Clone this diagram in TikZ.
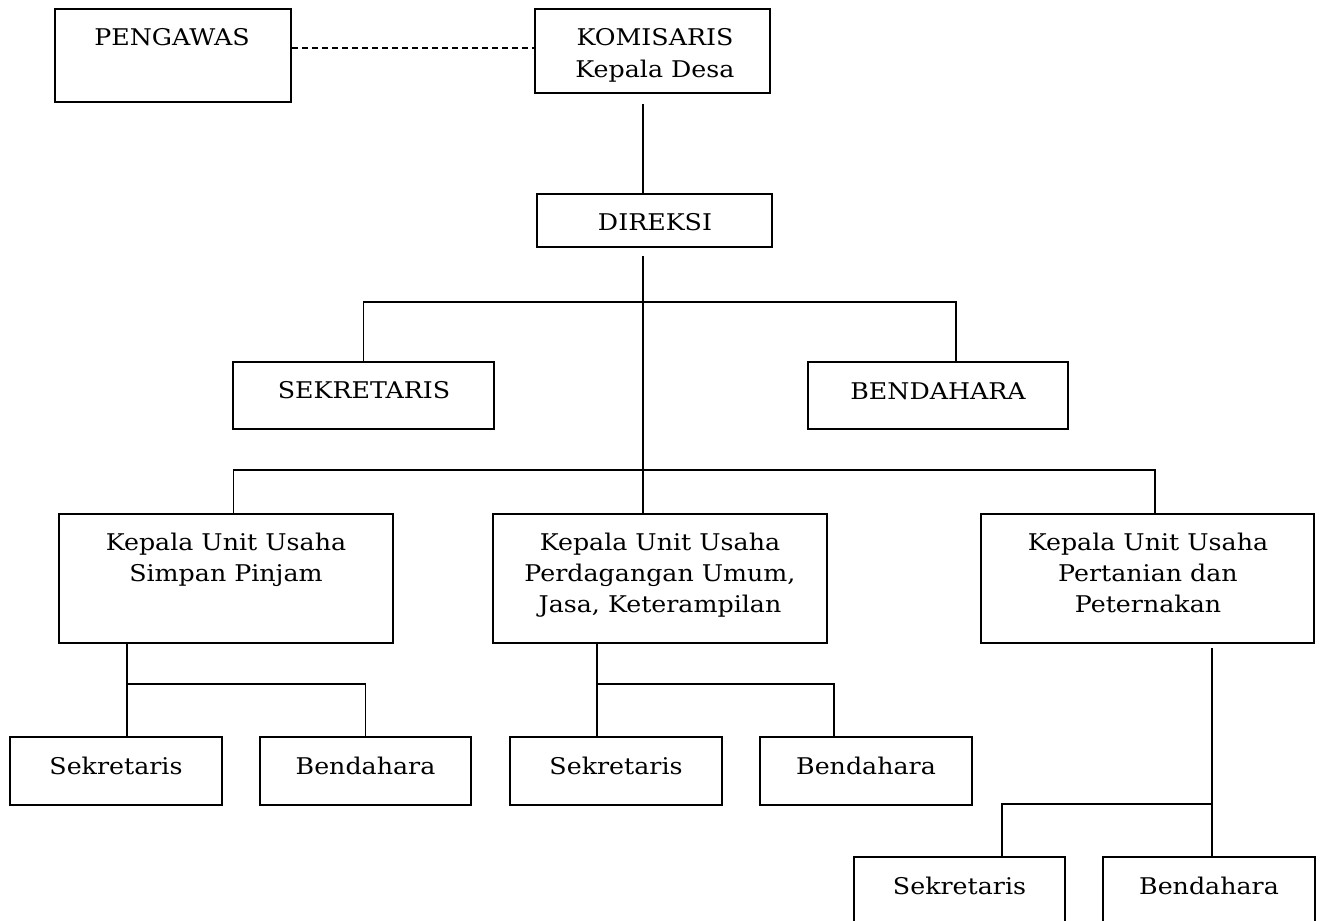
\documentclass[tikz,border=0pt]{standalone}
\usepackage{fontspec}
\setmainfont[FakeStretch=1.1]{DejaVu Serif}
\begin{document}
\begin{tikzpicture}[x=1pt,y=-1pt,
  box/.style={draw, line width=1.6pt, rectangle, inner sep=0pt},
  txt/.style={anchor=base, inner sep=0pt, font=\fontsize{23}{32}\selectfont},
  conn/.style={line width=1.5pt}]
\useasboundingbox (0,0) rectangle (1323,921);
% boxes
\node[box, minimum width=236pt, minimum height=93pt] (peng) at (173,55.5) {};
\node[box, minimum width=235pt, minimum height=84pt] (komi) at (652.5,51) {};
\node[box, minimum width=235pt, minimum height=53pt] (dir) at (654.5,220.5) {};
\node[box, minimum width=261pt, minimum height=67pt] (sek) at (363.5,395.5) {};
\node[box, minimum width=260pt, minimum height=67pt] (ben) at (937.75,395.5) {};
\node[box, minimum width=334pt, minimum height=129pt] (k1) at (226,578.5) {};
\node[box, minimum width=334pt, minimum height=129pt] (k2) at (660,578.5) {};
\node[box, minimum width=333pt, minimum height=129pt] (k3) at (1147.5,578.5) {};
\node[box, minimum width=212pt, minimum height=68pt] (s1) at (116,771) {};
\node[box, minimum width=211pt, minimum height=68pt] (b1) at (365.5,771) {};
\node[box, minimum width=212pt, minimum height=68pt] (s2) at (616,771) {};
\node[box, minimum width=212pt, minimum height=68pt] (b2) at (866,771) {};
\node[box, minimum width=211pt, minimum height=68pt] (s3) at (959.5,891) {};
\node[box, minimum width=212pt, minimum height=68pt] (b3) at (1209,891) {};
% texts
\node[txt] (tpeng) at (172,45.5) {PENGAWAS};
\node[txt] (tkomi1) at (655,45.5) {KOMISARIS};
\node[txt] (tkomi2) at (655,77.5) {Kepala Desa};
\node[txt] (tdir) at (655,230) {DIREKSI};
\node[txt] (tsek) at (364,398) {SEKRETARIS};
\node[txt] (tben) at (938,399) {BENDAHARA};
\node[txt] (tk1a) at (226,550) {Kepala Unit Usaha};
\node[txt] (tk1b) at (226,581.5) {Simpan Pinjam};
\node[txt] (tk2a) at (660,550) {Kepala Unit Usaha};
\node[txt] (tk2b) at (660,581.5) {Perdagangan Umum,};
\node[txt] (tk2c) at (660,612) {Jasa, Keterampilan};
\node[txt] (tk3a) at (1148,550) {Kepala Unit Usaha};
\node[txt] (tk3b) at (1148,581.5) {Pertanian dan};
\node[txt] (tk3c) at (1148,612) {Peternakan};
\node[txt] (ts1) at (116,774) {Sekretaris};
\node[txt] (tb1) at (365.5,774) {Bendahara};
\node[txt] (ts2) at (616,774) {Sekretaris};
\node[txt] (tb2) at (866,774) {Bendahara};
\node[txt] (ts3) at (959.5,894) {Sekretaris};
\node[txt] (tb3) at (1209,894) {Bendahara};
% junctions
\coordinate (j1) at (643,302);
\coordinate (j2) at (643,470);
\coordinate (j3) at (127,684);
\coordinate (j4) at (597,684);
\coordinate (j5) at (1212,804);
% connectors
\draw[conn, dash pattern=on 6pt off 4pt] ([yshift=7.5pt]peng.east) -- ([yshift=3pt]komi.west);
\draw[conn] ([yshift=-10pt]j1 |- komi.south) -- (j1 |- dir.north);
\draw[conn] ([yshift=-8pt]j1 |- dir.south) -- (j1 |- k2.north);
\draw[conn] (sek.north) -- (sek.north |- j1) -- ([xshift=18.25pt]ben.north |- j1) -- ([xshift=18.25pt]ben.north);
\draw[conn] ([xshift=7.5pt]k1.north) -- ([xshift=7.5pt]k1.north |- j2) -- ([xshift=7.5pt]k3.north |- j2) -- ([xshift=7.5pt]k3.north);
\draw[conn] (j3 |- k1.south) -- (j3 |- s1.north);
\draw[conn] (j3) -| (b1.north);
\draw[conn] (j4 |- k2.south) -- (j4 |- s2.north);
\draw[conn] (j4) -| ([xshift=-32pt]b2.north);
\draw[conn] ([yshift=-4pt]j5 |- k3.south) -- (j5 |- b3.north);
\draw[conn] (j5) -| ([xshift=42.5pt]s3.north);
\end{tikzpicture}
\end{document}
